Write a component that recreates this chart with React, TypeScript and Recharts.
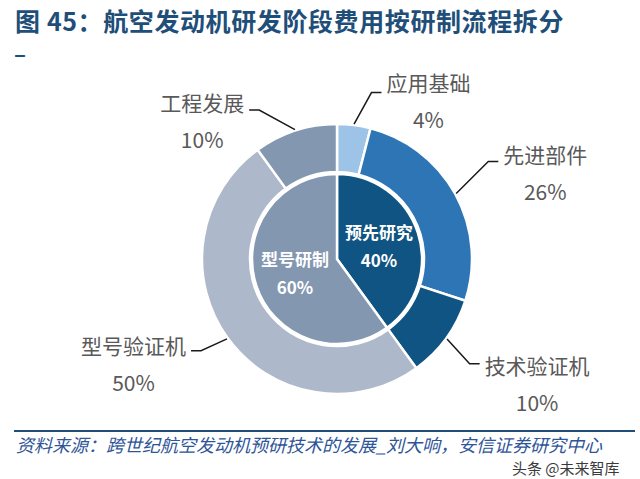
import { PieChart, Pie, Cell } from 'recharts';

const innerNames = ['预先研究', '型号研制'];
const innerValues = [40, 60];
const innerColors = ['#0F5482', '#8497B0'];

const outerNames = ['应用基础', '先进部件', '技术验证机', '型号验证机', '工程发展'];
const outerValues = [4, 26, 10, 50, 10];
const outerColors = ['#9DC3E6', '#2E75B6', '#0F5482', '#ADB9CA', '#8497B0'];

const titleText = '图 45：航空发动机研发阶段费用按研制流程拆分';
const sourceText = '资料来源：跨世纪航空发动机预研技术的发展_刘大响，安信证券研究中心';
const watermarkText = '头条 @未来智库';

const innerData = innerNames.map((name, i) => ({ name, value: innerValues[i] }));
const outerData = outerNames.map((name, i) => ({ name, value: outerValues[i] }));

// hand-placed callouts (degrees clockwise nudge, distance past the ring, vertical lift of text)
const calloutLayout = [
  { turn: 4.5, reach: 35, lift: -11 },
  { turn: -4, reach: 45, lift: -7 },
  { turn: 2.3, reach: 34, lift: 1 },
  { turn: 2, reach: 29, lift: -6 },
  { turn: -9.6, reach: 33, lift: -8 },
];

const FONT = '"Noto Sans CJK SC", "Noto Sans", sans-serif';
const LABEL_SIZE = 21;

const polar = (cx: number, cy: number, r: number, deg: number) => ({
  x: cx + r * Math.sin((deg * Math.PI) / 180),
  y: cy - r * Math.cos((deg * Math.PI) / 180),
});

const renderOuterLabel = (props: any) => {
  const { cx, cy, midAngle, outerRadius, index, name, value } = props;
  const lay = calloutLayout[index];
  const theta = 90 - midAngle;
  const start = polar(cx, cy, outerRadius + 1, theta);
  const elbow = polar(cx, cy, outerRadius + lay.reach, theta + lay.turn);
  const right = Math.sin((theta * Math.PI) / 180) >= 0;
  const tailX = elbow.x + (right ? 10 : -10);
  const nameW = String(name).length * LABEL_SIZE;
  const textX = right ? tailX + 5 + nameW / 2 : tailX - 5 - nameW / 2;
  const textY = elbow.y + lay.lift;
  return (
    <g>
      <polyline
        points={`${start.x},${start.y} ${elbow.x},${elbow.y} ${tailX},${elbow.y}`}
        fill="none"
        stroke="#1a1a1a"
        strokeWidth={1.5}
      />
      <text x={textX} y={textY} textAnchor="middle" dominantBaseline="central" fill="#595959" fontSize={LABEL_SIZE} fontFamily={FONT}>
        {name}
      </text>
      <text x={textX} y={textY + 37} textAnchor="middle" dominantBaseline="central" fill="#595959" fontSize={LABEL_SIZE} fontFamily={FONT}>
        {`${value}%`}
      </text>
    </g>
  );
};

const renderInnerLabel = (props: any) => {
  const { cx, cy, midAngle, outerRadius, name, value } = props;
  const p = polar(cx, cy, outerRadius * 0.52, 90 - midAngle);
  return (
    <g>
      <text x={p.x} y={p.y - 14} textAnchor="middle" dominantBaseline="central" fill="#fff" fontSize={17} fontWeight="bold" fontFamily={FONT}>
        {name}
      </text>
      <text x={p.x} y={p.y + 14} textAnchor="middle" dominantBaseline="central" fill="#fff" fontSize={17} fontWeight="bold" fontFamily={FONT}>
        {`${value}%`}
      </text>
    </g>
  );
};

export default function App() {
  return (
    <div style={{ position: 'absolute', left: 0, top: 0, width: 640, height: 479, background: '#fff', overflow: 'hidden', fontFamily: FONT }}>
      <div style={{ position: 'absolute', left: 15, top: 5, fontSize: 25, lineHeight: '30px', letterSpacing: 0.6, fontWeight: 'bold', color: '#1F4E79', whiteSpace: 'nowrap' }}>
        {titleText}
      </div>
      <div style={{ position: 'absolute', left: 14, top: 38, fontSize: 22, lineHeight: '28px', fontWeight: 'bold', color: '#1F4E79' }}>–</div>

      <div style={{ position: 'absolute', left: 0, top: 0 }}>
        <PieChart width={640} height={479}>
          <Pie
            data={outerData}
            dataKey="value"
            nameKey="name"
            cx={332}
            cy={254}
            innerRadius={87}
            outerRadius={135}
            startAngle={90}
            endAngle={-270}
            stroke="#fff"
            strokeWidth={2.5}
            label={renderOuterLabel}
            labelLine={false}
            isAnimationActive={false}
          >
            {outerData.map((d, i) => (
              <Cell key={d.name} fill={outerColors[i]} />
            ))}
          </Pie>
          <Pie
            data={innerData}
            dataKey="value"
            nameKey="name"
            cx={332}
            cy={254}
            innerRadius={0}
            outerRadius={85}
            startAngle={90}
            endAngle={-270}
            stroke="#fff"
            strokeWidth={2.5}
            label={renderInnerLabel}
            labelLine={false}
            isAnimationActive={false}
          >
            {innerData.map((d, i) => (
              <Cell key={d.name} fill={innerColors[i]} />
            ))}
          </Pie>
        </PieChart>
      </div>

      <div style={{ position: 'absolute', left: 14, top: 430, width: 621, height: 2, background: '#1F4E79' }} />
      <div style={{ position: 'absolute', left: 16, top: 434, fontSize: 18, lineHeight: '20px', fontStyle: 'italic', color: '#2F5597', whiteSpace: 'nowrap' }}>
        {sourceText}
      </div>
      <div style={{ position: 'absolute', left: 512, top: 459, fontSize: 15, lineHeight: '18px', color: '#3a3a3a', whiteSpace: 'nowrap', textShadow: '0 0 2px #fff, 0 0 2px #fff' }}>
        {watermarkText}
      </div>
    </div>
  );
}
